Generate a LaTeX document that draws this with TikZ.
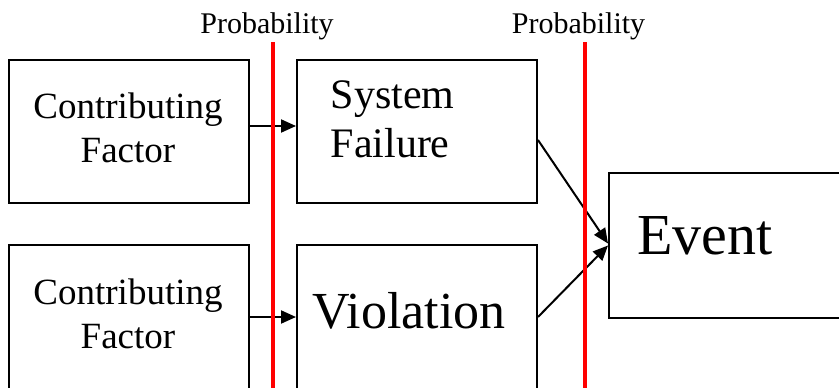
\documentclass[tikz,border=0pt]{standalone}
\usepackage{fontspec}
\setmainfont{Liberation Serif}
\usetikzlibrary{arrows.meta}
\begin{document}
\begin{tikzpicture}[x=1pt,y=-1pt,
		box/.style={draw,line width=2pt,minimum width=240pt,inner sep=0pt},
		link/.style={line width=2pt,-{Triangle[length=15pt,width=13pt]}},
		prob/.style={red,line width=4pt}]
		\clip (0,0) rectangle (839,388);
		% boxes
		\node[box,minimum height=143pt] (cf1) at (129,131.5) {};
		\node[box,minimum height=144pt] (cf2) at (129,317) {};
		\node[box,minimum height=143pt] (sf) at (417,131.5) {};
		\node[box,minimum height=144pt] (vio) at (417,317) {};
		\node[box,minimum width=241pt,minimum height=145pt] (ev) at (729.5,245.5) {};
		% labels
		\foreach \n/\y in {1/128.3,2/313.8}{
				\node[align=center,font=\fontsize{37}{44}\selectfont] (cf\n t) at (128,\y) {Contributing\\Factor};
			}
		\node[align=left,font=\fontsize{42}{49}\selectfont] (sft) at (392.5,119.3) {System\\Failure};
		\node[anchor=base,inner sep=0pt,font=\fontsize{52}{60}\selectfont] (viot) at (409,328) {Violation};
		\node[anchor=base,inner sep=0pt,font=\fontsize{58}{66}\selectfont] (evt) at (705,254) {Event};
		\node[anchor=base,inner sep=0pt,font=\fontsize{30}{36}\selectfont] (p1) at (267,33) {Probability};
		\node[anchor=base,inner sep=0pt,font=\fontsize{30}{36}\selectfont] (p2) at (578.5,33) {Probability};
		% arrows
		\draw[link] ([yshift=5.5pt]cf1.east) -- ([yshift=5.5pt]sf.west);
		\draw[link] (cf2.east) -- (vio.west);
		\draw[link] ([yshift=-8.5pt]sf.east) -- ([yshift=2pt]ev.west);
		\draw[link] (vio.east) -- (ev.west);
		% probability lines
		\draw[prob] (273,42) -- (273,392);
		\draw[prob] (585,42) -- (585,392);
	\end{tikzpicture}
\end{document}
